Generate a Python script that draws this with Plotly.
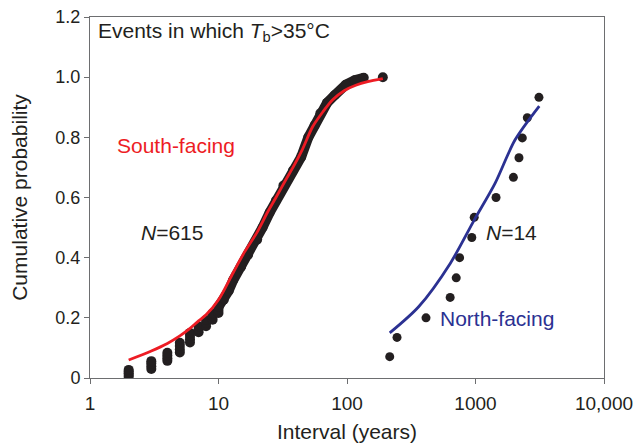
import plotly.graph_objects as go

# ---- data ----
# South-facing: discrete stacks of observations at short intervals (years, cumulative probability)
south_stack_interval = [2, 2, 2, 2, 2,
                        3, 3, 3, 3,
                        4, 4, 4, 4,
                        5, 5, 5, 5,
                        6, 6, 6, 6,
                        7, 7, 7,
                        8, 8, 8,
                        9, 9, 9,
                        10, 10, 10]
south_stack_prob = [0.004, 0.010, 0.016, 0.022, 0.027,
                    0.030, 0.039, 0.048, 0.056,
                    0.057, 0.066, 0.075, 0.084,
                    0.085, 0.095, 0.106, 0.117,
                    0.118, 0.129, 0.140, 0.150,
                    0.152, 0.162, 0.172,
                    0.172, 0.183, 0.193,
                    0.194, 0.205, 0.215,
                    0.216, 0.226, 0.237]
# South-facing: dense band of observations at longer intervals
south_band_interval = [10, 11, 12, 13, 15, 17, 20, 22, 25, 28, 32, 38, 44, 50, 56, 62, 70, 80, 98, 115, 135]
south_band_prob = [0.237, 0.26, 0.29, 0.325, 0.37, 0.41, 0.46, 0.50, 0.55, 0.59, 0.64, 0.69, 0.735,
                   0.80, 0.84, 0.88, 0.915, 0.94, 0.975, 0.99, 0.998]
south_last_interval = [190]
south_last_prob = [1.0]
# South-facing fitted curve
south_fit_interval = [2, 3, 4, 5, 6, 7, 8, 10, 13, 16, 20, 24, 28, 33, 38, 45, 54, 65, 77, 95, 117, 145, 190]
south_fit_prob = [0.06, 0.09, 0.115, 0.14, 0.165, 0.19, 0.21, 0.26, 0.35, 0.42, 0.485, 0.55, 0.60,
                  0.655, 0.70, 0.76, 0.835, 0.885, 0.924, 0.955, 0.973, 0.985, 0.995]

# North-facing observations
north_interval = [215, 245, 412, 635, 708, 752, 936, 977, 1445, 1972, 2179, 2313, 2531, 3118]
north_prob = [0.071, 0.135, 0.200, 0.268, 0.333, 0.400, 0.467, 0.534, 0.600, 0.667, 0.732, 0.798, 0.865, 0.933]
# North-facing fitted curve
north_fit_interval = [215, 361, 636, 977, 1419, 2028, 3135]
north_fit_prob = [0.150, 0.237, 0.381, 0.525, 0.647, 0.791, 0.904]

x_tickvals = [1, 10, 100, 1000, 10000]
x_ticktext = ["1", "10", "100", "1000", "10,000"]
y_tickvals = [0, 0.2, 0.4, 0.6, 0.8, 1.0, 1.2]
y_ticktext = ["0", "0.2", "0.4", "0.6", "0.8", "1.0", "1.2"]

BLACK = "#231f20"
RED = "#ed1c24"
BLUE = "#2b3192"
AXIS = "#6d6e70"
TEXT = "#231f20"
FONT = "Liberation Sans, Arial, sans-serif"
ANN = 21

fig = go.Figure()

fig.add_trace(go.Scatter(
    x=south_band_interval, y=south_band_prob, mode="lines+markers",
    line=dict(color=BLACK, width=10), marker=dict(color=BLACK, size=10),
    hoverinfo="skip", showlegend=False))
fig.add_trace(go.Scatter(
    x=south_stack_interval, y=south_stack_prob, mode="markers",
    marker=dict(color=BLACK, size=10), showlegend=False))
fig.add_trace(go.Scatter(
    x=south_last_interval, y=south_last_prob, mode="markers",
    marker=dict(color=BLACK, size=10), showlegend=False))
fig.add_trace(go.Scatter(
    x=south_fit_interval, y=south_fit_prob, mode="lines",
    line=dict(color=RED, width=2.8, shape="spline", smoothing=0.8), showlegend=False))

fig.add_trace(go.Scatter(
    x=north_interval, y=north_prob, mode="markers",
    marker=dict(color=BLACK, size=9), showlegend=False))
fig.add_trace(go.Scatter(
    x=north_fit_interval, y=north_fit_prob, mode="lines",
    line=dict(color=BLUE, width=2.8, shape="spline", smoothing=0.8), showlegend=False))

annotations = [
    dict(x=0.012, y=0.958, xref="paper", yref="paper", xanchor="left", yanchor="middle",
         text="Events in which <i>T</i><sub>b</sub>&gt;35°C", font=dict(size=ANN, color=TEXT)),
    dict(x=0.167, y=0.645, xref="paper", yref="paper", xanchor="center", yanchor="middle",
         text="South-facing", font=dict(size=ANN, color=RED)),
    dict(x=0.160, y=0.402, xref="paper", yref="paper", xanchor="center", yanchor="middle",
         text="<i>N</i>=615", font=dict(size=ANN, color=TEXT)),
    dict(x=0.821, y=0.404, xref="paper", yref="paper", xanchor="center", yanchor="middle",
         text="<i>N</i>=14", font=dict(size=ANN, color=TEXT)),
    dict(x=0.792, y=0.166, xref="paper", yref="paper", xanchor="center", yanchor="middle",
         text="North-facing", font=dict(size=ANN, color=BLUE)),
]
for a in annotations:
    a["showarrow"] = False

fig.update_layout(
    width=639, height=446,
    margin=dict(l=90, r=35, t=17, b=68, autoexpand=False),
    paper_bgcolor="white", plot_bgcolor="white",
    font=dict(family=FONT, size=19, color=TEXT),
    annotations=annotations,
    xaxis=dict(
        type="log", range=[0, 4], tickvals=x_tickvals, ticktext=x_ticktext,
        ticks="outside", ticklen=5, tickcolor=AXIS, tickwidth=1,
        showline=True, linecolor=AXIS, linewidth=1, mirror=True,
        showgrid=False, zeroline=False, ticklabelstandoff=3,
        tickfont=dict(size=19, color=TEXT),
        title=dict(text="Interval (years)", font=dict(size=21, color=TEXT), standoff=11),
    ),
    yaxis=dict(
        range=[0, 1.2], tickvals=y_tickvals, ticktext=y_ticktext,
        ticks="outside", ticklen=5, tickcolor=AXIS, tickwidth=1,
        showline=True, linecolor=AXIS, linewidth=1, mirror=True,
        showgrid=False, zeroline=False,
        tickfont=dict(size=18, color=TEXT),
        title=dict(text="Cumulative probability", font=dict(size=21, color=TEXT), standoff=22),
    ),
)

fig.write_html("out.html")
